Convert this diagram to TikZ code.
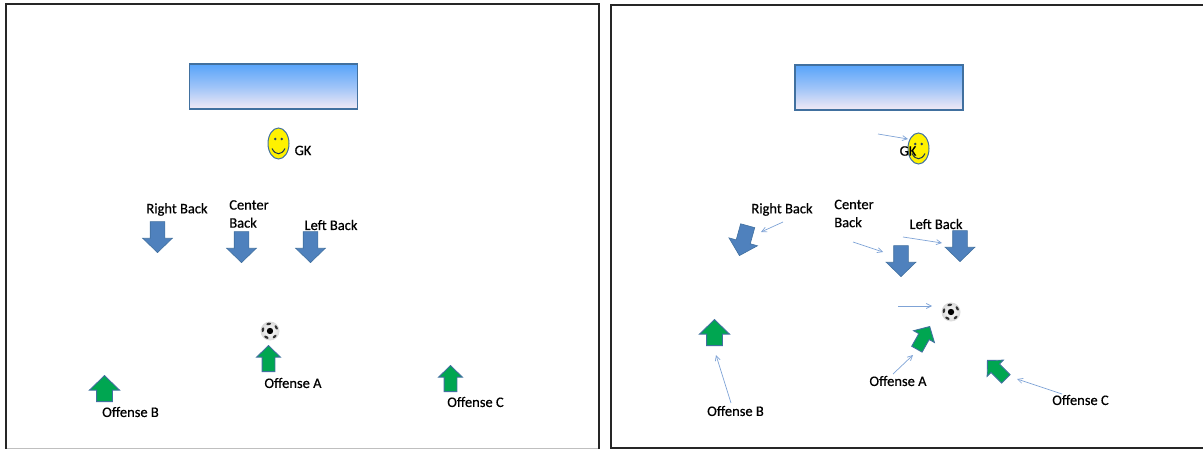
\documentclass[tikz,border=0pt]{standalone}
\usepackage{fontspec}
\setmainfont{Carlito}[FakeBold=0.5]
\usetikzlibrary{shapes.arrows,shapes.geometric,arrows.meta}
\definecolor{blockblue}{HTML}{4F81BD}
\definecolor{blockedge}{HTML}{41709F}
\definecolor{blockgreen}{HTML}{00A651}
\definecolor{linkblue}{HTML}{7FA3D6}
\definecolor{goaltop}{HTML}{58A4FA}
\definecolor{goalbot}{HTML}{F3EAF5}
\tikzset{
  panel/.style={draw=black!85,line width=2pt},
  panelfoot/.style={draw=black!25,line width=1pt},
  goal/.style={draw=blockedge,line width=1.2pt,top color=goaltop,bottom color=goalbot,middle color=goaltop!55!goalbot,minimum width=168,minimum height=45,inner sep=0,rectangle},
  back/.style={single arrow,draw=blockedge,fill=blockblue,line width=.6pt,minimum height=31,inner xsep=0,inner ysep=7,single arrow head extend=7.5,single arrow tip angle=92,single arrow head indent=0,anchor=tip},
  fwd/.style 2 args={single arrow,draw=blockedge,fill=blockgreen,line width=.9pt,minimum height=26,inner xsep=0,inner ysep=#1,single arrow head extend=#2,single arrow tip angle=92,single arrow head indent=0,anchor=tip},
  lbl/.style={font=\fontsize{14.5}{18}\selectfont,inner sep=0,text=black},
  face/.style={ellipse,draw=blockedge,fill=yellow,line width=1pt,minimum width=21,minimum height=31,inner sep=0},
  link/.style={draw=linkblue,line width=.7pt,-{Straight Barb[length=5pt,width=5pt]}},
  ballstyle/.style={circle,minimum size=19,inner sep=0,inner color=white,outer color=black!15,draw=none}
}
\newcommand{\smiley}[2]{%
  \node[face] (#1) at (#2) {};
  \fill[blockedge!60!black] ([shift={(-3.3,-4.5)}]#1.center) circle (1.4);
  \fill[blockedge!60!black] ([shift={(3.3,-4.5)}]#1.center) circle (1.4);
  \draw[blockedge!50!black,line width=1pt] ([shift={(-6.5,5)}]#1.center) .. controls ([shift={(-3,12)}]#1.center) and ([shift={(3,12)}]#1.center) .. ([shift={(6.5,5)}]#1.center);
}
\newcommand{\soccer}[2]{%
  \node[ballstyle] (#1) at (#2) {};
  \fill[black] (#1.center) circle (3.2);
  \foreach \a in {30,100,170,240,310}{\fill[black!80,shift={(#1.center)},rotate=\a] (7.2,0) ellipse (1.2 and 2.4);}
}
\begin{document}
\begin{tikzpicture}[x=1pt,y=-1pt]
\useasboundingbox (0,0) rectangle (1203,449);
\draw[panelfoot] (6,448.3) -- (599,448.3);
\draw[panel] (6,449) -- (6,4) -- (599,4) -- (599,449);
\draw[panel] (1203,5) -- (611,5) -- (611,447.5) -- (1203,447.5);
% left panel
\node[goal] (goalL) at (273.5,86.6) {};
\smiley{faceL}{278.5,143.5}
\node[lbl] (gkL) at (303,150.5) {GK};
\node[lbl] (rbL) at (177,209.5) {Right Back};
\node[lbl,align=left] (cbL) at (249,214) {Center\\Back};
\node[lbl] (lbL) at (331,225) {Left Back};
\node[back,rotate=-90] (rbaL) at (157.5,253) {};
\node[back,rotate=-90] (cbaL) at (241.5,263) {};
\node[back,rotate=-90] (lbaL) at (310.5,263) {};
\soccer{ballL}{270,331}
\node[fwd={6}{5.5},rotate=90] (oaaL) at (268.5,345) {};
\node[fwd={7.5}{7},rotate=90] (obaL) at (104.5,375) {};
\node[fwd={6}{5.5},rotate=90] (ocaL) at (450.5,365) {};
\node[lbl] (oaL) at (293,383) {Offense A};
\node[lbl] (obL) at (130.5,412) {Offense B};
\node[lbl] (ocL) at (475.5,402) {Offense C};
% right panel
\node[goal] (goalR) at (879,87.6) {};
\smiley{faceR}{918.5,148.5}
\node[lbl] (gkR) at (908,151) {GK};
\node[lbl] (rbR) at (782,209.5) {Right Back};
\node[lbl,align=left] (cbR) at (854,213.5) {Center\\Back};
\node[lbl] (lbR) at (936,224) {Left Back};
\node[back,rotate=-105.5] (rbaR) at (739.3,256) {};
\node[back,rotate=-90] (cbaR) at (901,277) {};
\node[back,rotate=-90] (lbaR) at (960,262) {};
\soccer{ballR}{951,312}
\node[fwd={7.5}{7},rotate=90] (obaR) at (714.5,319) {};
\node[fwd={5.5}{6},rotate=60.5] (oaaR) at (930,326) {};
\node[fwd={5.5}{5.5},rotate=135] (ocaR) at (987,360) {};
\node[lbl] (oaR) at (898,381) {Offense A};
\node[lbl] (obR) at (735.5,411) {Offense B};
\node[lbl] (ocR) at (1080.5,400) {Offense C};
% connector ends
\coordinate (s1) at (878,134); \coordinate (e1) at (908,139);
\coordinate (s2) at (783,222); \coordinate (e2) at (761,232);
\coordinate (s3) at (853,242); \coordinate (e3) at (883,252);
\coordinate (s4) at (903,237); \coordinate (e4) at (942,243);
\coordinate (s5) at (898,306); \coordinate (e5) at (932,306);
\coordinate (s6) at (893,374); \coordinate (e6) at (913,355);
\coordinate (s7) at (731,403); \coordinate (e7) at (716,355);
\coordinate (s8) at (1062,394); \coordinate (e8) at (1017,379);
\foreach \i in {1,...,8}{\draw[link] (s\i) -- (e\i);}
\end{tikzpicture}
\end{document}
